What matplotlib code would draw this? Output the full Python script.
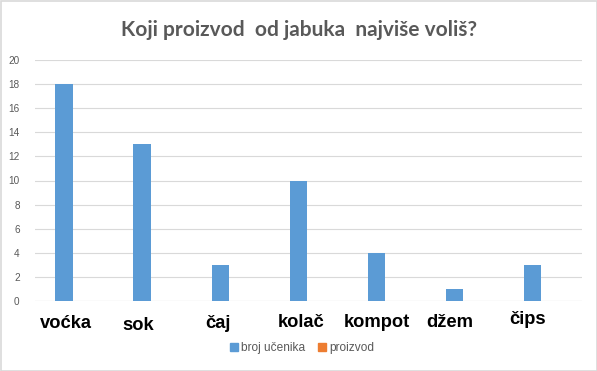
import numpy as np
import matplotlib
matplotlib.use('Agg')
from matplotlib import pyplot as plt
from matplotlib.patches import Rectangle

categories = ['voćka', 'sok', 'čaj', 'kolač', 'kompot', 'džem', 'čips']
broj_ucenika = [18, 13, 3, 10, 4, 1, 3]
proizvod = [0, 0, 0, 0, 0, 0, 0]
series_names = ['broj učenika', 'proizvod']
y_ticks = list(range(0, 21, 2))

# hand-placed category labels (pixel x centre, baseline y) as in the original
label_px = [66, 138, 218, 301, 377, 450, 528]
label_base = [328, 330, 328, 327, 327, 327, 324]

W, H = 597, 371
BLUE = '#5B9BD5'
ORANGE = '#ED7D31'
GREY = '#595959'
GRID = '#D9D9D9'

fig = plt.figure(figsize=(W / 100, H / 100), dpi=100)
ax = fig.add_axes([35 / W, 1 - 301 / H, (582 - 35) / W, (301 - 60) / H])

x = np.arange(len(categories))
bw = 0.22
ax.bar(x - 0.13, broj_ucenika, width=bw, color=BLUE, zorder=3)
ax.bar(x - 0.13 + bw, proizvod, width=bw, color=ORANGE, zorder=3)

ax.set_xlim(-0.5, len(categories) - 0.5)
ax.set_ylim(0, 20)
ax.set_yticks(y_ticks)
ax.set_yticklabels([str(t) for t in y_ticks], fontsize=7.2, color=GREY,
                   family='Liberation Sans')
ax.tick_params(axis='y', length=0, pad=11)
ax.set_xticks([])
ax.grid(axis='y', color=GRID, linewidth=0.8, zorder=0)
for s in ax.spines.values():
    s.set_visible(False)
ax.axhline(0, color=GRID, linewidth=0.8, zorder=1)

for name, px, py in zip(categories, label_px, label_base):
    fig.text(px / W, 1 - py / H, name, ha='center', va='baseline',
             fontsize=13.2, fontweight='bold', family='Liberation Sans',
             color='black')

fig.text(299 / W, 1 - 36 / H, 'Koji proizvod  od jabuka  najviše voliš?',
         ha='center', va='baseline', fontsize=15, fontweight='bold',
         family='Lato', color=GREY)

handles = [Rectangle((0, 0), 1, 1, color=BLUE), Rectangle((0, 0), 1, 1, color=ORANGE)]
fig.legend(handles, series_names, loc='center', bbox_to_anchor=(302 / W, 1 - 348 / H),
           ncol=2, frameon=False, handlelength=0.7, handleheight=0.7,
           handletextpad=0.3, columnspacing=1.0,
           prop={'family': 'Liberation Sans', 'size': 8.6}, labelcolor=GREY)

fig.patches.append(Rectangle((0.5 / W, 0.5 / H), 1 - 1 / W, 1 - 1 / H,
                             transform=fig.transFigure, fill=False,
                             edgecolor=GRID, linewidth=1.2))

fig.savefig('out.png', dpi=100)
